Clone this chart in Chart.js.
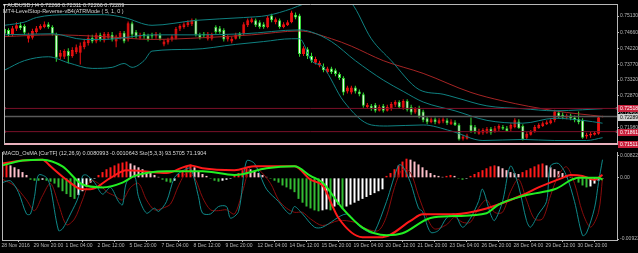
<!DOCTYPE html>
<html><head><meta charset="utf-8">
<script src="https://cdn.jsdelivr.net/npm/chart.js@4.4.1/dist/chart.umd.min.js"></script>
<style>
html,body{margin:0;padding:0;background:#000;}
#wrap{position:relative;width:638px;height:253px;overflow:hidden;background:#000;}
canvas{position:absolute;left:0;}
.t{position:absolute;color:#d8d8d8;font-family:"Liberation Sans",Arial,sans-serif;font-size:5.5px;white-space:nowrap;line-height:6px;}
</style></head><body>
<div id="wrap">
<canvas id="main" width="638" height="148" style="top:0"></canvas>
<canvas id="sub" width="638" height="105" style="top:148px"></canvas>
<div class="t" id="t1" style="left:3px;top:2px"></div>
<div class="t" id="t2" style="left:3px;top:8px"></div>
<div class="t" id="t3" style="left:3px;top:150px"></div>
</div>
<script>
// ---------------- DATA ----------------
const mainTitle = "\u25BE AUDUSD,H4  0.72268 0.72311 0.72266 0.72289";
const indTitle = "MT4-LevelStop-Reverse-vB4(ATRMode ( 5, 1, 0 )";
const subTitle = "MACD_OsMA [CurTF] (12,26,9) 0.0080993 -0.0010643 Sto(5,3,3) 93.5705 71.1904";

const timeLabels = ['28 Nov 2016','29 Nov 20:00','1 Dec 04:00','2 Dec 12:00','5 Dec 20:00','7 Dec 04:00','8 Dec 12:00','9 Dec 20:00','12 Dec 04:00','14 Dec 12:00','15 Dec 20:00','19 Dec 04:00','20 Dec 12:00','21 Dec 20:00','23 Dec 04:00','26 Dec 20:00','28 Dec 04:00','29 Dec 12:00','30 Dec 20:00'];
const barsPerLabel = 8;

const priceTicks = [0.75130,0.74660,0.74220,0.73770,0.73320,0.72870,0.72400,0.71980];
const macdTickValues = [0.0023, 0, -0.0064];
const macdTickLabels = ['0.008225','0.00','-0.009232'];

const open = [.7477,.7474,.7460,.7477,.7487,.7485,.7449,.7452,.7468,.7477,
 .7482,.7490,.7482,.7460,.7398,.7398,.7414,.7400,.7411,.7409,
 .7425,.7436,.7452,.7441,.7460,.7444,.7452,.7460,.7441,.7452,
 .7466,.7447,.7493,.7468,.7452,.7463,.7458,.7460,.7455,.7460,
 .7433,.7438,.7447,.7449,.7477,.7482,.7487,.7490,.7501,.7460,
 .7463,.7449,.7449,.7482,.7479,.7474,.7447,.7441,.7449,.7463,
 .7463,.7487,.7496,.7501,.7496,.7490,.7482,.7515,.7496,.7501,
 .7482,.7487,.7496,.7517,.7515,.7406,.7419,.7400,.7381,.7373,
 .7370,.7354,.7365,.7360,.7349,.7338,.7300,.7297,.7311,.7300,
 .7292,.7256,.7259,.7262,.7245,.7259,.7245,.7251,.7262,.7270,
 .7254,.7273,.7256,.7240,.7254,.7243,.7224,.7213,.7221,.7210,
 .7215,.7218,.7207,.7213,.7205,.7166,.7166,.7205,.7199,.7180,
 .7183,.7183,.7194,.7186,.7194,.7199,.7196,.7194,.7199,.7215,
 .7202,.7169,.7177,.7188,.7196,.7202,.7207,.7210,.7218,.7240,
 .7234,.7226,.7232,.7226,.7221,.7218,.7172,.7175,.7177,.7180,
 .72268];
const high = [.7482,.7479,.7485,.7496,.7496,.7490,.7466,.7477,.7485,.7490,
 .7498,.7496,.7487,.7466,.7417,.7419,.7422,.7425,.7433,.7438,
 .7449,.7460,.7460,.7466,.7466,.7468,.7468,.7468,.7460,.7471,
 .7471,.7498,.7498,.7474,.7466,.7468,.7463,.7466,.7468,.7466,
 .7447,.7452,.7460,.7482,.7490,.7496,.7501,.7506,.7506,.7466,
 .7468,.7468,.7466,.7487,.7485,.7479,.7460,.7455,.7466,.7468,
 .7496,.7506,.7509,.7506,.7501,.7496,.7515,.7520,.7509,.7506,
 .7496,.7501,.7528,.7523,.7520,.7428,.7425,.7409,.7398,.7387,
 .7379,.7370,.7370,.7365,.7354,.7343,.7316,.7316,.7316,.7305,
 .7297,.7267,.7264,.7267,.7262,.7264,.7262,.7270,.7275,.7275,
 .7278,.7278,.7262,.7256,.7259,.7248,.7229,.7226,.7226,.7224,
 .7226,.7224,.7221,.7218,.7210,.7177,.7180,.7226,.7205,.7194,
 .7196,.7199,.7199,.7202,.7207,.7205,.7202,.7210,.7224,.7221,
 .7207,.7186,.7191,.7205,.7210,.7215,.7218,.7224,.7248,.7245,
 .7240,.7237,.7237,.7232,.7243,.7224,.7183,.7186,.7188,.7229,
 .72311];
const low = [.7458,.7455,.7455,.7471,.7474,.7460,.7438,.7447,.7463,.7474,
 .7479,.7477,.7458,.7384,.7390,.7392,.7379,.7395,.7406,.7376,
 .7419,.7430,.7436,.7436,.7441,.7438,.7447,.7441,.7425,.7447,
 .7436,.7441,.7452,.7449,.7447,.7449,.7441,.7449,.7449,.7444,
 .7428,.7433,.7441,.7447,.7471,.7477,.7482,.7485,.7455,.7447,
 .7452,.7444,.7444,.7463,.7463,.7441,.7441,.7436,.7447,.7449,
 .7458,.7482,.7493,.7482,.7477,.7477,.7479,.7496,.7490,.7477,
 .7479,.7485,.7493,.7504,.7398,.7400,.7392,.7381,.7376,.7368,
 .7354,.7351,.7349,.7343,.7332,.7289,.7294,.7292,.7294,.7286,
 .7254,.7251,.7245,.7240,.7243,.7240,.7243,.7245,.7256,.7251,
 .7248,.7243,.7234,.7237,.7224,.7213,.7207,.7210,.7207,.7207,
 .7210,.7205,.7205,.7202,.7161,.7161,.7164,.7183,.7180,.7177,
 .7177,.7180,.7177,.7183,.7188,.7191,.7186,.7188,.7196,.7194,
 .7161,.7164,.7175,.7183,.7194,.7199,.7205,.7207,.7213,.7224,
 .7221,.7221,.7218,.7213,.7207,.7166,.7166,.7169,.7175,.7177,
 .72266];
const close = [.7463,.7460,.7479,.7487,.7479,.7466,.7460,.7471,.7479,.7485,
 .7490,.7482,.7463,.7395,.7409,.7414,.7400,.7417,.7425,.7430,
 .7441,.7452,.7441,.7460,.7447,.7463,.7463,.7447,.7455,.7466,
 .7441,.7493,.7460,.7455,.7460,.7455,.7447,.7455,.7463,.7449,
 .7441,.7447,.7455,.7477,.7485,.7490,.7496,.7501,.7460,.7452,
 .7458,.7463,.7460,.7468,.7468,.7447,.7455,.7449,.7460,.7455,
 .7490,.7501,.7504,.7487,.7482,.7482,.7509,.7501,.7504,.7482,
 .7490,.7496,.7523,.7509,.7406,.7422,.7400,.7387,.7392,.7381,
 .7360,.7365,.7354,.7349,.7338,.7297,.7311,.7311,.7300,.7292,
 .7259,.7262,.7251,.7245,.7256,.7245,.7256,.7264,.7270,.7256,
 .7273,.7248,.7240,.7251,.7229,.7218,.7213,.7221,.7213,.7218,
 .7221,.7210,.7215,.7205,.7164,.7172,.7175,.7188,.7186,.7188,
 .7191,.7194,.7183,.7196,.7202,.7194,.7188,.7205,.7218,.7196,
 .7164,.7180,.7186,.7199,.7205,.7210,.7213,.7218,.7243,.7229,
 .7226,.7232,.7224,.7218,.7213,.7169,.7177,.7180,.7183,.7227,
 .72289];

// Bollinger bands and moving average, [bar, price]
const bbUpper = [[0,.7487],[5,.7496],[8,.7509],[16,.7517],[25,.7517],[30,.7509],[37,.7487],[48,.7501],[60,.7509],[66,.7515],[72,.7534],[75,.7547],[80,.7558],[85,.7558],[87,.7550],[92,.7449],[97,.7387],[104,.7305],[110,.7292],[113,.7283],[121,.7259],[130,.7251],[138,.7245],[145,.7248],[150,.7251]];
const bbMiddle = [[0,.7460],[12,.7463],[20,.7447],[25,.7447],[37,.7460],[48,.7460],[60,.7463],[74,.7474],[77,.7468],[82,.7441],[88,.7387],[95,.7332],[100,.7300],[105,.7270],[113,.7245],[121,.7218],[130,.7210],[138,.7224],[145,.7218],[150,.7210]];
const bbLower = [[0,.7360],[5,.7387],[11,.7398],[16,.7381],[22,.7365],[27,.7368],[30,.7379],[32,.7368],[35,.7387],[37,.7414],[47,.7419],[58,.7433],[65,.7441],[72,.7449],[74,.7449],[77,.7387],[80,.7368],[85,.7273],[92,.7205],[96,.7202],[105,.7205],[112,.7188],[120,.7161],[130,.7164],[138,.7161],[146,.7161],[150,.7169]];
const maLine = [[0,.7455],[12,.7460],[25,.7455],[37,.7447],[50,.7452],[62,.7460],[74,.7471],[82,.7449],[87,.7428],[95,.7387],[105,.7351],[117,.7297],[125,.7273],[138,.7245],[150,.7229]];

const levelUpper = 0.72518;
const levelLower = 0.71861;
const levelBottom = 0.71511;
const bidPrice = 0.72289;

// Indicator window
const osma = [14,15,13,11,9,6,3,
 -2,-3,-3,-2,-3,-4,
 -6,-10,-14,-17,-20,-22,-18,
 -14,-9,-5,-1,
 3,6,9,11,13,15,16,17,15,13,11,
 9,7,5,3,1,
 -2,-4,-5,-3,
 4,8,12,14,11,7,
 4,2,-1,-3,-4,-3,-2,
 -1,2,5,8,10,9,
 7,5,3,1,-1,
 -3,-5,-8,-10,-12,-15,-22,-26,-30,
 -32,-34,-35,-34,-33,-34,-30,-28,-32,-30,-28,-26,-24,-22,-20,-18,-16,-14,-12,
 2,5,9,13,17,20,19,17,14,11,8,
 5,3,2,1,2,3,2,
 -1,-2,-1,
 2,4,6,8,10,12,13,12,
 10,8,6,5,4,6,
 8,10,12,14,15,13,11,
 9,7,5,3,1,
 -2,-5,-8,-10,-9,-6,
 -3,-1].map(v=>v/10000);
const macdMain = [[0,.0015],[5,.0018],[10,.0019],[12,.0012],[16,-.0002],[20,-.0012],[22,-.0012],[27,0],[31,.0008],[35,.0007],[41,.0005],[47,.0013],[50,.0010],[58,.0008],[63,.0012],[73,.0012],[77,-.0002],[80,-.0008],[84,-.0042],[90,-.0062],[95,-.0062],[102,-.0045],[105,-.0038],[113,-.0038],[121,-.0032],[130,-.0018],[134,-.0010],[140,0],[142,.0003],[145,.0002],[148,-.0002],[150,.0003]];
const macdSignal = [[0,.0013],[5,.0018],[10,.0019],[15,.0012],[20,-.0007],[25,-.0010],[30,-.0005],[33,.0002],[41,.0007],[50,.0007],[58,.0003],[66,.0010],[73,.0012],[77,.0002],[80,-.0005],[85,-.0032],[90,-.0052],[96,-.0060],[100,-.0058],[107,-.0042],[113,-.0040],[121,-.0037],[124,-.0028],[131,-.0018],[138,-.0012],[144,0],[149,0],[150,-.0002]];
const stochK = [[0,66],[2,68],[4,54],[6,28],[7,28],[8,49],[9,75],[11,72],[12,60],[14,8],[15,10],[17,28],[19,49],[20,74],[21,75],[23,66],[25,52],[27,60],[29,43],[30,39],[31,66],[33,74],[34,49],[36,29],[38,35],[39,31],[41,43],[43,72],[45,80],[47,83],[49,49],[50,29],[52,28],[54,37],[56,37],[57,23],[59,31],[61,92],[63,89],[66,58],[69,43],[71,31],[72,28],[73,37],[75,28],[78,12],[80,12],[86,28],[89,14],[92,5],[93,6],[96,43],[99,87],[100,86],[102,66],[104,35],[105,31],[107,6],[109,8],[111,23],[113,28],[115,12],[117,23],[119,43],[120,58],[122,28],[123,20],[125,43],[127,86],[129,62],[131,20],[132,12],[134,28],[136,43],[137,86],[139,89],[141,74],[143,43],[145,2],[146,5],[148,35],[149,66],[150,93.57]];
const stochD = [[0,70],[3,62],[6,45],[8,32],[10,50],[12,65],[14,40],[16,15],[18,22],[20,45],[22,68],[24,65],[26,55],[28,50],[30,45],[32,60],[34,65],[36,45],[38,33],[40,35],[42,40],[44,62],[46,78],[48,72],[50,48],[52,33],[54,32],[56,33],[58,28],[60,55],[62,85],[64,82],[67,65],[69,45],[71,35],[73,30],[75,30],[77,22],[80,14],[84,20],[88,18],[91,10],[94,8],[96,25],[98,60],[100,82],[102,78],[104,50],[106,25],[108,10],[111,15],[113,24],[115,18],[117,18],[119,35],[121,45],[123,30],[125,30],[127,55],[129,70],[131,45],[133,22],[135,22],[137,50],[139,75],[141,85],[143,65],[145,30],[147,12],[149,30],[150,71.19]];

// ---------------- STYLE / LAYOUT ----------------
const FONT = '"Liberation Sans", Arial, sans-serif';
const AXIS = '#b8b8b8';
const X_MIN = -0.125, X_MAX = 153.625;
const Y_MIN = levelBottom, Y_MAX = 0.75473;
const BULL = '#ee1111', BEAR_EDGE = '#33dd33', BEAR_FILL = '#ffffff';

document.getElementById('t1').textContent = mainTitle;
document.getElementById('t2').textContent = indTitle;
document.getElementById('t3').textContent = subTitle;

const pts = arr => arr.map(p => ({x:p[0], y:p[1]}));
const bull = open.map((o,i) => close[i] >= o);

const framePlugin = {
  id:'frame',
  afterDraw(chart, args, opts){
    const {ctx, chartArea:a} = chart;
    ctx.save();
    ctx.strokeStyle = AXIS; ctx.lineWidth = 1;
    ctx.beginPath();
    ctx.moveTo(a.left+0.5, a.top); ctx.lineTo(a.left+0.5, a.bottom);
    if (opts.top) { ctx.moveTo(a.left, a.top+0.5); ctx.lineTo(a.right, a.top+0.5); }
    ctx.stroke();
    (opts.boxes||[]).forEach(b => {
      const y = Math.round(chart.scales.y.getPixelForValue(b.value));
      ctx.fillStyle = b.bg; ctx.fillRect(a.right+1, y-3, 21, 7);
      ctx.fillStyle = b.fg; ctx.font = '5px ' + FONT; ctx.textBaseline = 'middle'; ctx.textAlign='left';
      ctx.fillText(b.text, a.right+3, y+0.5);
    });
    ctx.restore();
  }
};

const levelDs = (v, color, w) => ({type:'line', data:[{x:X_MIN,y:v},{x:X_MAX,y:v}], borderColor:color, borderWidth:w,
  pointRadius:0, order:0, clip:false});
const anchorDs = (v) => ({type:'line', data:[{x:X_MIN+0.2,y:v},{x:X_MAX-0.1,y:v}], showLine:false,
  pointStyle:'rect', pointRadius:1.2, pointBackgroundColor:'#ff9fb0', pointBorderWidth:0, order:0});

new Chart(document.getElementById('main'), {
  type:'bar',
  data:{ datasets:[
    {type:'line', data:pts(bbUpper), borderColor:'#0f8080', borderWidth:1, pointRadius:0, cubicInterpolationMode:'monotone', order:1},
    {type:'line', data:pts(bbMiddle), borderColor:'#0f8080', borderWidth:1, pointRadius:0, cubicInterpolationMode:'monotone', order:1},
    {type:'line', data:pts(bbLower), borderColor:'#0f8080', borderWidth:1, pointRadius:0, cubicInterpolationMode:'monotone', order:1},
    {type:'line', data:pts(maLine), borderColor:'#a52424', borderWidth:1, pointRadius:0, cubicInterpolationMode:'monotone', order:1},
    levelDs(levelUpper, '#7a1028', 1),
    levelDs(levelLower, '#7a1028', 1),
    levelDs(bidPrice, '#5a5a5a', 1.5),
    levelDs(levelBottom, '#e8b0bc', 2),
    anchorDs(levelUpper), anchorDs(levelLower),
    {type:'bar', data:open.map((o,i)=>({x:i, y:[o, close[i]]})), backgroundColor:bull.map(b=>b?BULL:BEAR_FILL),
      borderColor:bull.map(b=>b?BULL:BEAR_EDGE), borderWidth:1, borderSkipped:false, barThickness:3, grouped:false, minBarLength:1, inflateAmount:0, order:2},
    {type:'bar', data:high.map((h,i)=>({x:i, y:[low[i], h]})), backgroundColor:bull.map(b=>b?BULL:BEAR_EDGE),
      barThickness:1, grouped:false, inflateAmount:0, order:3}
  ]},
  options:{
    responsive:false, animation:false, devicePixelRatio:1,
    layout:{padding:{left:2, right:0, top:1, bottom:1.5}},
    plugins:{legend:{display:false}, tooltip:{enabled:false},
      frame:{top:true, boxes:[
        {value:levelUpper, text:'0.72518', bg:'#c8203c', fg:'#ffffff'},
        {value:bidPrice, text:'0.72289', bg:'#d0d0d0', fg:'#000000'},
        {value:levelLower, text:'0.71861', bg:'#c8203c', fg:'#ffffff'},
        {value:levelBottom, text:'0.71511', bg:'#c8203c', fg:'#ffffff'}
      ]}},
    scales:{
      x:{type:'linear', min:X_MIN, max:X_MAX, display:false, offset:false},
      y:{position:'right', min:Y_MIN, max:Y_MAX,
        afterFit(s){ s.width = 21; },
        afterBuildTicks(s){ s.ticks = priceTicks.map(v=>({value:v})); },
        ticks:{color:AXIS, font:{size:5, family:FONT}, padding:1, callback:v=>v.toFixed(5)},
        grid:{drawOnChartArea:false, color:AXIS, tickLength:2},
        border:{color:AXIS}}
    }
  },
  plugins:[framePlugin]
});

const osmaColors = osma.map((v,i) => {
  const p = i>0 ? osma[i-1] : v;
  if (v >= 0) return v >= p ? '#ff1a1a' : '#ffc0cb';
  return v <= p ? '#33bb33' : '#ffffff';
});

new Chart(document.getElementById('sub'), {
  type:'bar',
  data:{ datasets:[
    {type:'line', data:pts(stochK), yAxisID:'ys', borderColor:'#0f8a8a', borderWidth:1, pointRadius:0, tension:0.3, order:1},
    {type:'line', data:pts(stochD), yAxisID:'ys', borderColor:'#8a0c0c', borderWidth:1, pointRadius:0, tension:0.3, order:1},
    {type:'line', data:pts(macdSignal), yAxisID:'y', borderColor:'#22ee22', borderWidth:2, pointRadius:0, cubicInterpolationMode:'monotone', order:0},
    {type:'line', data:pts(macdMain), yAxisID:'y', borderColor:'#ff1a1a', borderWidth:2, pointRadius:0, cubicInterpolationMode:'monotone', order:0},
    {type:'bar', data:osma.map((v,i)=>({x:i, y:v})), yAxisID:'y', backgroundColor:osmaColors, barThickness:2, grouped:false, inflateAmount:0, order:2}
  ]},
  options:{
    responsive:false, animation:false, devicePixelRatio:1,
    layout:{padding:{left:2, right:0, top:0, bottom:0}},
    plugins:{legend:{display:false}, tooltip:{enabled:false}, frame:{top:false}},
    scales:{
      x:{type:'linear', min:X_MIN, max:X_MAX, offset:false,
        afterFit(s){ s.height = 13; },
        afterBuildTicks(s){ s.ticks = timeLabels.map((_,k)=>({value:k*barsPerLabel})); },
        ticks:{autoSkip:false, maxRotation:0, minRotation:0, align:'start', color:AXIS, font:{size:5, family:FONT}, padding:1, labelOffset:-1, callback:(v,idx)=>timeLabels[idx]},
        grid:{drawOnChartArea:false, color:AXIS, tickLength:2},
        border:{color:AXIS}},
      y:{position:'right', min:-0.0065, max:0.0027,
        afterFit(s){ s.width = 21; },
        afterBuildTicks(s){ s.ticks = macdTickValues.map(v=>({value:v})); },
        ticks:{color:AXIS, font:{size:5, family:FONT}, padding:1, callback:(v,idx)=>macdTickLabels[idx]},
        grid:{drawOnChartArea:false, color:AXIS, tickLength:2},
        border:{color:AXIS}},
      ys:{display:false, min:-3.47, max:102.9}
    }
  },
  plugins:[framePlugin]
});
</script>
</body></html>
